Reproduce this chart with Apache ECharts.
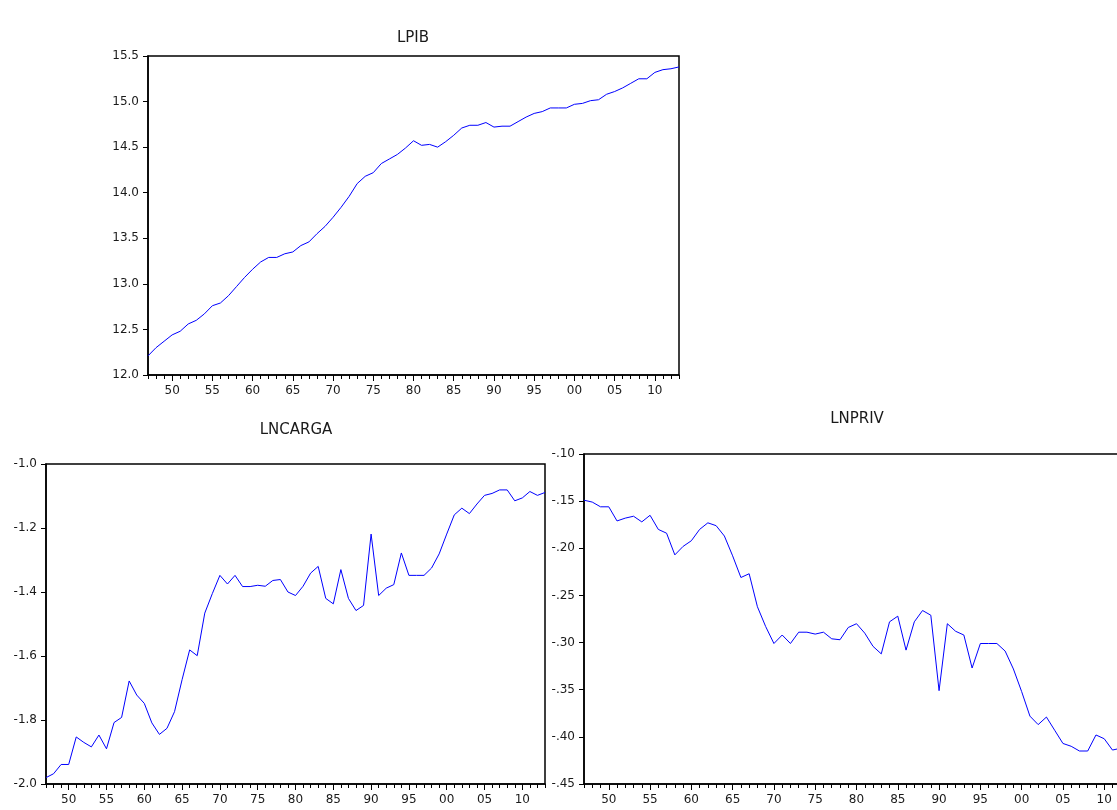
<!DOCTYPE html>
<html>
<head>
<meta charset="utf-8">
<title>LPIB / LNCARGA / LNPRIV</title>
<script src="https://cdn.jsdelivr.net/npm/echarts@6/dist/echarts.min.js"></script>
<style>
    html, body { margin: 0; padding: 0; background: #fff; }
    #chart { width: 1117px; height: 810px; }
</style>
</head>
<body>
<div id="chart"></div>
<script>
// years 1947 - 2013
var years = ['1947', '1948', '1949', '1950', '1951', '1952', '1953', '1954', '1955', '1956',
    '1957', '1958', '1959', '1960', '1961', '1962', '1963', '1964', '1965', '1966',
    '1967', '1968', '1969', '1970', '1971', '1972', '1973', '1974', '1975', '1976',
    '1977', '1978', '1979', '1980', '1981', '1982', '1983', '1984', '1985', '1986',
    '1987', '1988', '1989', '1990', '1991', '1992', '1993', '1994', '1995', '1996',
    '1997', '1998', '1999', '2000', '2001', '2002', '2003', '2004', '2005', '2006',
    '2007', '2008', '2009', '2010', '2011', '2012', '2013'];

var lpib = [12.21, 12.30, 12.37, 12.44, 12.48, 12.56, 12.60, 12.67, 12.76, 12.79,
    12.87, 12.97, 13.07, 13.16, 13.24, 13.29, 13.29, 13.33, 13.35, 13.42,
    13.46, 13.55, 13.63, 13.73, 13.84, 13.96, 14.10, 14.18, 14.22, 14.32,
    14.37, 14.42, 14.49, 14.57, 14.52, 14.53, 14.50, 14.56, 14.63, 14.71,
    14.74, 14.74, 14.77, 14.72, 14.73, 14.73, 14.78, 14.83, 14.87, 14.89,
    14.93, 14.93, 14.93, 14.97, 14.98, 15.01, 15.02, 15.08, 15.11, 15.15,
    15.20, 15.25, 15.25, 15.32, 15.35, 15.36, 15.38];

var lncarga = [-1.980, -1.968, -1.939, -1.939, -1.853, -1.870, -1.884, -1.847, -1.890, -1.808,
    -1.792, -1.678, -1.722, -1.748, -1.809, -1.845, -1.826, -1.774, -1.674, -1.581,
    -1.599, -1.466, -1.405, -1.348, -1.375, -1.348, -1.383, -1.383, -1.379, -1.382,
    -1.364, -1.361, -1.400, -1.411, -1.382, -1.341, -1.320, -1.420, -1.437, -1.330,
    -1.420, -1.458, -1.442, -1.219, -1.411, -1.388, -1.377, -1.278, -1.348, -1.348,
    -1.348, -1.325, -1.281, -1.219, -1.159, -1.138, -1.155, -1.125, -1.098, -1.092,
    -1.081, -1.081, -1.115, -1.106, -1.086, -1.098, -1.089];

var lnpriv = [-0.149, -0.151, -0.156, -0.156, -0.171, -0.168, -0.166, -0.172, -0.165, -0.180,
    -0.184, -0.207, -0.198, -0.192, -0.180, -0.173, -0.176, -0.187, -0.208, -0.231,
    -0.227, -0.262, -0.283, -0.301, -0.292, -0.301, -0.289, -0.289, -0.291, -0.289,
    -0.296, -0.297, -0.284, -0.280, -0.290, -0.304, -0.312, -0.278, -0.272, -0.308,
    -0.278, -0.266, -0.271, -0.351, -0.280, -0.288, -0.292, -0.327, -0.301, -0.301,
    -0.301, -0.309, -0.328, -0.352, -0.378, -0.387, -0.379, -0.393, -0.407, -0.410,
    -0.415, -0.415, -0.398, -0.402, -0.414, -0.412, -0.410];

var titles = ['LPIB', 'LNCARGA', 'LNPRIV'];

var FONT = 'DejaVu Sans';
var TEXT_COLOR = '#1a1a1a';
var LINE_COLOR = '#0000ff';

function isMajor(index, value) {
    return parseInt(value, 10) % 5 === 0;
}

// two x axes per panel: yearly minor ticks, and 5-year ticks with labels
function xAxes(gridIndex) {
    return [
        {
            type: 'category', gridIndex: gridIndex, position: 'bottom',
            data: years, boundaryGap: false,
            axisLine: { show: true, onZero: false, lineStyle: { color: '#000', width: 1.5 } },
            axisTick: { show: true, interval: 0, length: 4, lineStyle: { color: '#000' } },
            axisLabel: { show: false },
            splitLine: { show: false }
        },
        {
            type: 'category', gridIndex: gridIndex, position: 'bottom',
            data: years, boundaryGap: false,
            axisLine: { show: false, onZero: false },
            axisTick: { show: true, interval: isMajor, length: 6, lineStyle: { color: '#000' } },
            axisLabel: {
                show: true, interval: isMajor, margin: 10,
                color: TEXT_COLOR, fontFamily: FONT, fontSize: 12,
                formatter: function (v) { return v.slice(2); }
            },
            splitLine: { show: false }
        }
    ];
}

function yAxis(gridIndex, min, max, interval, fmt) {
    return {
        type: 'value', gridIndex: gridIndex,
        min: min, max: max, interval: interval,
        axisLine: { show: true, lineStyle: { color: '#000', width: 1.5 } },
        axisTick: { show: true, length: 5, lineStyle: { color: '#000' } },
        axisLabel: {
            margin: 9, color: TEXT_COLOR, fontFamily: FONT, fontSize: 12,
            formatter: fmt
        },
        splitLine: { show: false }
    };
}

function lineSeries(idx, data) {
    return {
        type: 'line',
        xAxisIndex: idx * 2, yAxisIndex: idx,
        data: data,
        showSymbol: false,
        lineStyle: { color: LINE_COLOR, width: 1 },
        emphasis: { disabled: true },
        animation: false
    };
}

function titleAt(text, x, y) {
    return {
        text: text, left: x, top: y, textAlign: 'center', padding: 0,
        textStyle: { fontFamily: FONT, fontSize: 15, fontWeight: 'normal', color: TEXT_COLOR }
    };
}

// the right panel runs past the window edge, as in the original
var chart = echarts.init(document.getElementById('chart'));
chart.setOption({
    backgroundColor: '#fff',
    animation: false,
    title: [
        titleAt(titles[0], 413, 31),
        titleAt(titles[1], 296, 423),
        titleAt(titles[2], 857, 412)
    ],
    grid: [
        { left: 148, top: 56, width: 531, height: 319, outerBoundsMode: 'none',
          show: true, borderColor: '#000', borderWidth: 1.5 },
        { left: 46, top: 464, width: 499, height: 320, outerBoundsMode: 'none',
          show: true, borderColor: '#000', borderWidth: 1.5 },
        { left: 584, top: 454, width: 545, height: 330, outerBoundsMode: 'none',
          show: true, borderColor: '#000', borderWidth: 1.5 }
    ],
    xAxis: xAxes(0).concat(xAxes(1), xAxes(2)),
    yAxis: [
        yAxis(0, 12, 15.5, 0.5, function (v) { return v.toFixed(1); }),
        yAxis(1, -2, -1, 0.2, function (v) { return v.toFixed(1); }),
        yAxis(2, -0.45, -0.10, 0.05, function (v) { return v.toFixed(2).replace('0.', '.'); })
    ],
    series: [
        lineSeries(0, lpib),
        lineSeries(1, lncarga),
        lineSeries(2, lnpriv)
    ]
});
</script>
</body>
</html>
